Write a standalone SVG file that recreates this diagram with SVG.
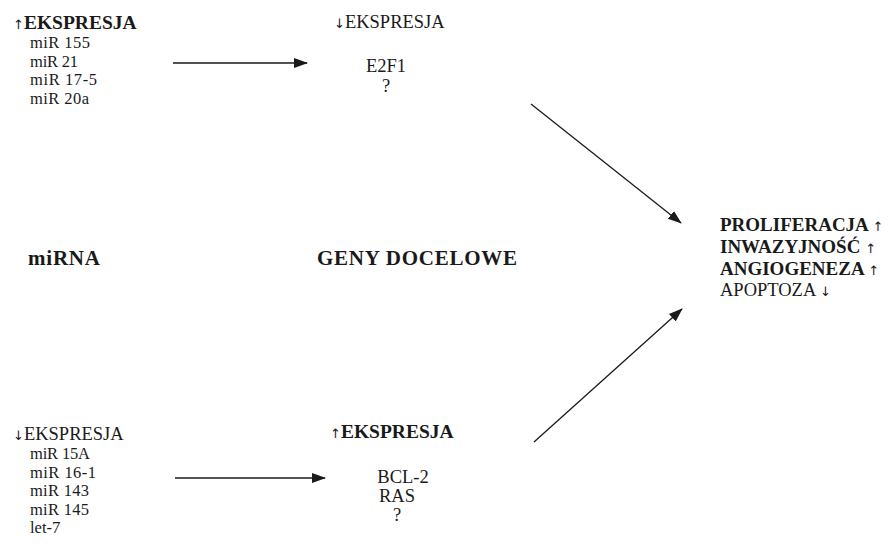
<svg xmlns="http://www.w3.org/2000/svg" width="888" height="556" viewBox="0 0 888 556">
<style>
text{font-family:"Liberation Serif","Times New Roman",serif;fill:#1a1a1a;font-size:16.5px}
.m{font-size:18.5px}
.b{font-weight:bold;font-size:19.5px}
.r{font-weight:bold;font-size:19px}
.h{font-weight:bold;font-size:21px}
.c{text-anchor:middle}
.ar{font-family:"DejaVu Sans",sans-serif;font-size:13px;font-weight:normal}
line{stroke:#1a1a1a;stroke-width:1.3}
</style>
<defs>
<marker id="ah" markerUnits="userSpaceOnUse" markerWidth="14" markerHeight="12" refX="13" refY="5" orient="auto">
<path d="M0,0 L14,5 L0,10 Z" fill="#1a1a1a"/>
</marker>
</defs>
<rect width="888" height="556" fill="#fff"/>
<g id="mirna-up">
<text x="13" y="29" class="b"><tspan class="ar">↑</tspan>EKSPRESJA</text>
<text x="30" y="48" textLength="60">miR 155</text>
<text x="30" y="66.5" textLength="48">miR 21</text>
<text x="30" y="85" textLength="67">miR 17-5</text>
<text x="30" y="103.5" textLength="59">miR 20a</text>
</g>
<g id="target-down">
<text x="334" y="28" class="m"><tspan class="ar">↓</tspan>EKSPRESJA</text>
<text x="386" y="72" class="m c">E2F1</text>
<text x="386" y="92" class="m c">?</text>
</g>
<g id="mirna-label">
<text x="28" y="265" class="h" textLength="72">miRNA</text>
</g>
<g id="geny-label">
<text x="317" y="265" class="h" textLength="200">GENY DOCELOWE</text>
</g>
<g id="effects">
<text x="720" y="231" class="r">PROLIFERACJA <tspan class="ar">↑</tspan></text>
<text x="720" y="253" class="r">INWAZYJNOŚĆ <tspan class="ar">↑</tspan></text>
<text x="720" y="274.5" class="r">ANGIOGENEZA <tspan class="ar">↑</tspan></text>
<text x="720" y="296" class="m">APOPTOZA <tspan class="ar">↓</tspan></text>
</g>
<g id="mirna-down">
<text x="13" y="440" class="m"><tspan class="ar">↓</tspan>EKSPRESJA</text>
<text x="30" y="459" textLength="60">miR 15A</text>
<text x="30" y="477.5" textLength="66">miR 16-1</text>
<text x="30" y="496" textLength="59">miR 143</text>
<text x="30" y="514.5" textLength="59">miR 145</text>
<text x="30" y="533">let-7</text>
</g>
<g id="target-up">
<text x="330" y="438" class="b"><tspan class="ar">↑</tspan>EKSPRESJA</text>
<text x="403" y="483" class="m c">BCL-2</text>
<text x="397" y="502" class="m c">RAS</text>
<text x="397" y="521" class="m c">?</text>
</g>
<g id="connectors">
<line x1="173" y1="63" x2="307" y2="63" marker-end="url(#ah)"/>
<line x1="175" y1="478" x2="325" y2="478" marker-end="url(#ah)"/>
<line x1="531" y1="104" x2="681" y2="223" marker-end="url(#ah)"/>
<line x1="534" y1="442" x2="682" y2="309" marker-end="url(#ah)"/>
</g>
</svg>
